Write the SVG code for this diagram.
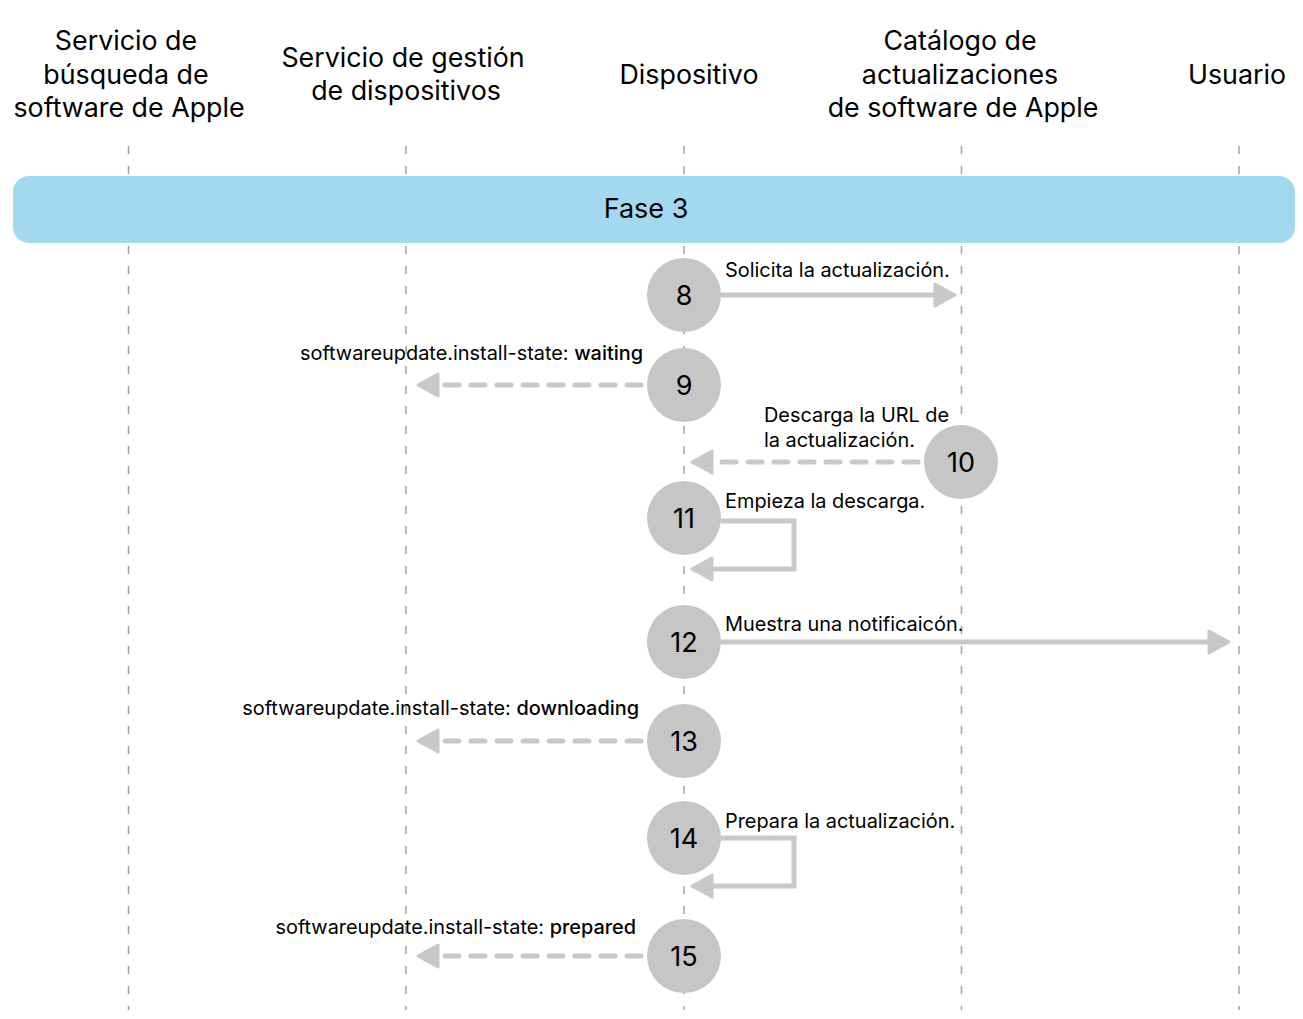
<svg xmlns="http://www.w3.org/2000/svg" width="1303" height="1019" viewBox="0 0 1303 1019">
<style>
.hdr{font-family:Inter,"Noto Sans","Liberation Sans",sans-serif;font-size:26.8px;fill:#000;text-anchor:middle}
.lbl{font-family:Inter,"Noto Sans","Liberation Sans",sans-serif;font-size:19.9px;fill:#000}
.num{font-family:Inter,"Noto Sans","Liberation Sans",sans-serif;font-size:27px;fill:#000;text-anchor:middle}
.b{font-weight:500}
.life{stroke:#a3a3a3;stroke-width:1.5;stroke-dasharray:8 12;fill:none}
.solid{stroke:#c8c8c8;stroke-width:5;fill:none;marker-end:url(#ah)}
.dash{stroke:#c8c8c8;stroke-width:5;fill:none;stroke-dasharray:14 12;stroke-linecap:round;marker-end:url(#ah)}
.step{fill:#c6c6c6}
</style>
<defs>
<marker id="ah" markerUnits="userSpaceOnUse" markerWidth="30" markerHeight="30" viewBox="-4 -4 30 30" refX="2" refY="11" orient="auto">
<path d="M0,0 L20,11 L0,22 Z" fill="#c8c8c8" stroke="#c8c8c8" stroke-width="3" stroke-linejoin="round"/>
</marker>
</defs>
<rect width="1303" height="1019" fill="#fff"/>
<g id="lifelines">
<line class="life" x1="128.5" y1="146" x2="128.5" y2="1010"/>
<line class="life" x1="406" y1="146" x2="406" y2="1010"/>
<line class="life" x1="684" y1="146" x2="684" y2="1010"/>
<line class="life" x1="961.5" y1="146" x2="961.5" y2="1010"/>
<line class="life" x1="1239" y1="146" x2="1239" y2="1010"/>
</g>
<g id="headers">
<g id="actor-busqueda"><text class="hdr" x="126" y="50">Servicio de</text><text class="hdr" x="126" y="84">búsqueda de</text><text class="hdr" x="129" y="117">software de Apple</text></g>
<g id="actor-gestion"><text class="hdr" x="403" y="67">Servicio de gestión</text><text class="hdr" x="406" y="100">de dispositivos</text></g>
<g id="actor-dispositivo"><text class="hdr" x="689" y="84">Dispositivo</text></g>
<g id="actor-catalogo"><text class="hdr" x="960" y="50">Catálogo de</text><text class="hdr" x="960" y="84">actualizaciones</text><text class="hdr" x="963" y="117">de software de Apple</text></g>
<g id="actor-usuario"><text class="hdr" x="1237" y="84">Usuario</text></g>
</g>
<g id="phase">
<rect x="13" y="176" width="1282" height="67" rx="16" fill="#a2d9ef"/>
<text class="num" x="646" y="218">Fase 3</text>
</g>
<g id="connectors">
<line class="solid" x1="721" y1="295" x2="937" y2="295"/>
<line class="dash" x1="641" y1="385" x2="436" y2="385"/>
<line class="dash" x1="918" y1="462" x2="710" y2="462"/>
<path class="solid" d="M721,521 H794 V569 H710"/>
<line class="solid" x1="721" y1="642" x2="1211" y2="642"/>
<line class="dash" x1="641" y1="741" x2="436" y2="741"/>
<path class="solid" d="M721,838 H794 V886 H710"/>
<line class="dash" x1="641" y1="956" x2="436" y2="956"/>
</g>
<g id="labels">
<text class="lbl" x="725" y="277">Solicita la actualización.</text>
<text class="lbl" x="643" y="360" text-anchor="end">softwareupdate.install-state: <tspan class="b">waiting</tspan></text>
<text class="lbl" x="764" y="422">Descarga la URL de</text>
<text class="lbl" x="764" y="447">la actualización.</text>
<text class="lbl" x="725" y="508">Empieza la descarga.</text>
<text class="lbl" x="725" y="631">Muestra una notificaicón.</text>
<text class="lbl" x="639" y="715" text-anchor="end">softwareupdate.install-state: <tspan class="b">downloading</tspan></text>
<text class="lbl" x="725" y="828">Prepara la actualización.</text>
<text class="lbl" x="636" y="934" text-anchor="end">softwareupdate.install-state: <tspan class="b">prepared</tspan></text>
</g>
<g id="step8"><circle class="step" cx="684" cy="295" r="37"/><text class="num" x="684" y="305">8</text></g>
<g id="step9"><circle class="step" cx="684" cy="385" r="37"/><text class="num" x="684" y="395">9</text></g>
<g id="step10"><circle class="step" cx="961" cy="462" r="37"/><text class="num" x="961" y="472">10</text></g>
<g id="step11"><circle class="step" cx="684" cy="518" r="37"/><text class="num" x="684" y="528">11</text></g>
<g id="step12"><circle class="step" cx="684" cy="642" r="37"/><text class="num" x="684" y="652">12</text></g>
<g id="step13"><circle class="step" cx="684" cy="741" r="37"/><text class="num" x="684" y="751">13</text></g>
<g id="step14"><circle class="step" cx="684" cy="838" r="37"/><text class="num" x="684" y="848">14</text></g>
<g id="step15"><circle class="step" cx="684" cy="956" r="37"/><text class="num" x="684" y="966">15</text></g>
</svg>
